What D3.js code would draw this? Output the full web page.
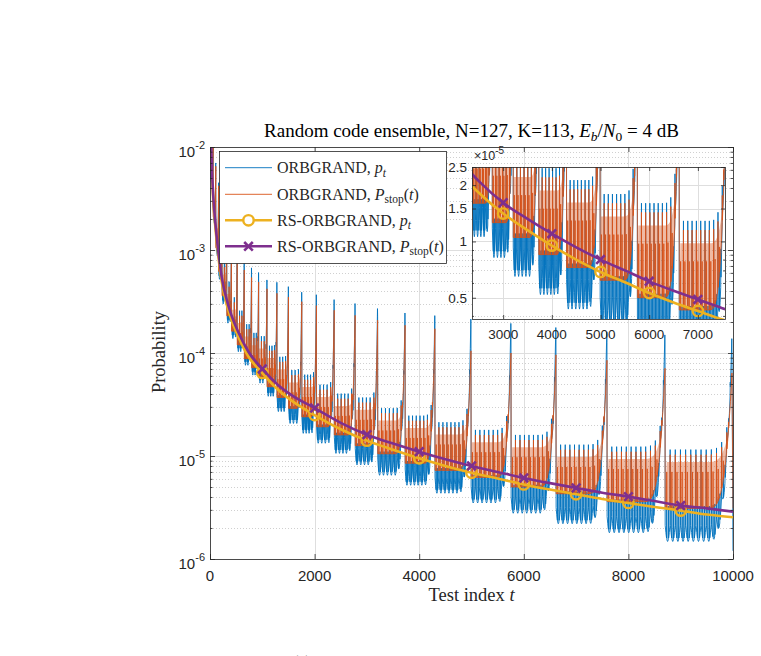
<!DOCTYPE html>
<html><head><meta charset="utf-8">
<script src="https://cdn.jsdelivr.net/npm/d3@7/dist/d3.min.js"></script>
<style>html,body{margin:0;padding:0;background:#fff}svg{display:block}</style>
</head><body>
<svg id="chart" width="761" height="656"></svg>
<script>
// ---------------- DATA ----------------
// RS-ORBGRAND smooth curves
const rsT     = [10, 30, 60, 100, 160, 220, 350, 540, 730, 1000, 1300, 1560, 2000, 2500, 3000, 3500, 4000, 4500, 5000, 5500, 6000, 6500, 7000, 7500, 8000, 8500, 9000, 9500, 10000];
const rsPt    = [2.4e-2, 7.4e-3, 3.2e-3, 1.72e-3, 8.7e-4, 5.05e-4, 2.6e-4, 1.44e-4, 9.3e-5, 6.4e-5, 4.4e-5, 3.45e-5, 2.5e-5, 1.82e-5, 1.41e-5, 1.15e-5, 0.95e-5, 0.80e-5, 0.687e-5, 0.605e-5, 0.53e-5, 0.472e-5, 0.425e-5, 0.383e-5, 0.35e-5, 0.32e-5, 0.295e-5, 0.27e-5, 0.254e-5];
const rsPstop = [2.6e-2, 8e-3, 3.5e-3, 1.9e-3, 9.6e-4, 5.6e-4, 2.9e-4, 1.6e-4, 1.04e-4, 7.0e-5, 4.9e-5, 3.9e-5, 2.92e-5, 2.1e-5, 1.61e-5, 1.32e-5, 1.10e-5, 0.93e-5, 0.80e-5, 0.70e-5, 0.612e-5, 0.545e-5, 0.49e-5, 0.44e-5, 0.403e-5, 0.365e-5, 0.33e-5, 0.31e-5, 0.288e-5];
const markerT = [1000, 2000, 3000, 4000, 5000, 6000, 7000, 8000, 9000];

// ORBGRAND: big spike positions and heights
const spikeT    = [1, 60, 110, 165, 230, 320, 410, 520, 655, 795, 930, 1090, 1280, 1500, 1755, 2035, 2375, 2775, 3205, 3730, 4300, 4990, 5755, 6615, 7590, 8700, 9980];
const peakPt    = [3e-2, 1.2e-2, 7e-3, 4.5e-3, 2.8e-3, 1.9e-3, 1.3e-3, 9e-4, 6.9e-4, 5.8e-4, 5.3e-4, 4.5e-4, 4.1e-4, 3.8e-4, 3.4e-4, 3.1e-4, 2.8e-4, 2.5e-4, 2.25e-4, 2.0e-4, 1.86e-4, 1.7e-4, 1.55e-4, 1.4e-4, 1.26e-4, 1.17e-4, 1.07e-4];
const peakPstop = [2.8e-2, 1.1e-2, 6.5e-3, 4.2e-3, 2.6e-3, 1.77e-3, 1.2e-3, 8.4e-4, 6.4e-4, 5.4e-4, 4.9e-4, 4.2e-4, 3.8e-4, 3.5e-4, 3.15e-4, 2.88e-4, 2.6e-4, 2.32e-4, 2.08e-4, 1.86e-4, 1.72e-4, 1.05e-4, 1.0e-4, 9.6e-5, 8.5e-5, 7.1e-5, 6.4e-5];
// per segment (between consecutive spikes): floors, tooth tops, tooth counts
const floorPt    = [4.5e-3, 1.8e-3, 9e-4, 5.2e-4, 3.0e-4, 1.95e-4, 1.38e-4, 1.03e-4, 7.6e-5, 6.1e-5, 5.1e-5, 3.8e-5, 2.7e-5, 2.07e-5, 1.66e-5, 1.33e-5, 1.06e-5, 8.2e-6, 6.5e-6, 5.2e-6, 4.35e-6, 3.5e-6, 2.78e-6, 2.2e-6, 1.8e-6, 1.48e-6];
const floorPstop = [6e-3, 2.1e-3, 1.05e-3, 6.2e-4, 3.6e-4, 2.3e-4, 1.63e-4, 1.2e-4, 8.8e-5, 7.2e-5, 5.9e-5, 4.7e-5, 3.7e-5, 2.9e-5, 2.4e-5, 1.92e-5, 1.6e-5, 1.26e-5, 1.05e-5, 8.5e-6, 7.25e-6, 6.2e-6, 5.0e-6, 4.3e-6, 3.6e-6, 3.1e-6];
const toothTop   = [1.2e-2, 3.6e-3, 1.9e-3, 1.15e-3, 6.8e-4, 4.4e-4, 3.1e-4, 2.3e-4, 1.7e-4, 1.4e-4, 1.3e-4, 1.05e-4, 8.2e-5, 6.1e-5, 5.5e-5, 4.4e-5, 3.6e-5, 3.3e-5, 2.6e-5, 2.2e-5, 1.9e-5, 1.6e-5, 1.43e-5, 1.15e-5, 1.1e-5, 1.03e-5];
const teethCount = [1, 1, 1, 2, 2, 2, 2, 3, 3, 3, 3, 4, 4, 4, 5, 5, 6, 6, 7, 8, 9, 9, 10, 11, 12, 13];
const endT = 10000, endPt = 1.2e-6, endPstop = 3.1e-6;

// tick labels
const xTicks = [0, 2000, 4000, 6000, 8000, 10000];
const yTickExp = [-6, -5, -4, -3, -2];
const insetXTicks = [3000, 4000, 5000, 6000, 7000];
const insetYTicks = [0.5, 1, 1.5, 2, 2.5];
const legendLabels = ["ORBGRAND, p_t", "ORBGRAND, P_stop(t)", "RS-ORBGRAND, p_t", "RS-ORBGRAND, P_stop(t)"];

// ---------------- SETUP ----------------
const SERIF = '"Liberation Serif","Times New Roman",serif';
const SANS = '"Liberation Sans",Arial,Helvetica,sans-serif';
const AX = '#262626', GRID = '#dedede', MINOR = '#c4c4c4';
const C_BLUE = '#0072BD', C_OR = '#D95319', C_YEL = '#EDB120', C_PUR = '#7E2F8E';
const svg = d3.select('#chart');
const M = {l: 210, r: 733, t: 147, b: 559};
const x = d3.scaleLinear().domain([0, 10000]).range([M.l, M.r]);
const y = d3.scaleLog().domain([1e-6, 1e-2]).range([M.b, M.t]);
const I = {l: 472, r: 725, t: 167, b: 319};
const xi = d3.scaleLinear().domain([2360, 7557]).range([I.l, I.r]);
const yi = d3.scaleLog().domain([0.385e-5, 2.5e-5]).range([I.b, I.t]);

// ---------------- BUILD ORBGRAND SERIES ----------------
function envG(u) { const u0 = 0.6; return u <= u0 ? 0 : Math.pow((u - u0) / (1 - u0), 4); }
function ll(a, b, g) { return a * Math.pow(b / a, g); }
function segFns(k) {
  const a = spikeT[k], b = spikeT[k + 1], L = b - a;
  const u = t => (t - a) / L;
  const fB = t => ll(floorPt[k], peakPt[k + 1], envG(u(t)));
  const fO = t => ll(floorPstop[k], peakPstop[k + 1], envG(u(t)));
  const hT = t => Math.max(ll(toothTop[k], peakPt[k + 1], 0.5 * envG(u(t))), fO(t) * 1.3);
  return {a, b, L, fB, fO, hT};
}
function buildSeries(isPt) {
  const pts = [], peaks = isPt ? peakPt : peakPstop;
  for (let k = 0; k < spikeT.length; k++) {
    pts.push([spikeT[k], peaks[k]]);
    if (k === spikeT.length - 1) break;
    const {a, L, fB, fO, hT} = segFns(k);
    const n = teethCount[k], sub = 3, dp = L / n, ds = dp / sub, eps = ds * 0.1;
    for (let j = 0; j < n; j++) {
      const g0 = a + j * dp;
      const bowl = t => { const w = (t - g0) / dp; return fB(t) * (1 + 0.5 * Math.pow(2 * w - 1, 2)); };
      for (let i = 0; i < sub; i++) {
        const s = g0 + i * ds, e = s + ds;
        if (isPt) {
          pts.push([s + eps, bowl(s + eps)]);
          pts.push([(s + e) / 2, bowl((s + e) / 2)]);
          pts.push([e - eps, bowl(e - eps)]);
        } else {
          pts.push([s + eps, fO(s + eps)]);
          pts.push([e - eps, fO(e - eps)]);
        }
        if (j === n - 1 && i === sub - 1) continue;
        const prim = (i === sub - 1);
        let v;
        if (isPt) v = prim ? hT(e) * 1.12 : Math.max(fO(e) * 1.05, bowl(e) * 1.25);
        else {
          if (prim) v = hT(e);
          else if (i === 0) v = Math.max(hT(e) * 0.68, fO(e) * 1.2);
          else continue;
        }
        pts.push([e, v]);
      }
    }
  }
  pts.push([endT, isPt ? endPt : endPstop]);
  return pts;
}
function buildBand() {
  const band = [];
  for (let k = 0; k < spikeT.length - 1; k++) {
    const {a, L, fO, hT} = segFns(k);
    const N = 40;
    for (let i = 0; i <= N; i++) {
      const t = a + L * i / N, lo = fO(t);
      const hi = (i === 0 || i === N) ? lo : Math.max(lo, hT(t) * 0.85);
      band.push([t, lo, hi]);
    }
  }
  return band;
}
const seriesPt = buildSeries(true);
const seriesStop = buildSeries(false);
const bandStop = buildBand();
const rsPtData = rsT.map((t, i) => [t, rsPt[i]]);
const rsStopData = rsT.map((t, i) => [t, rsPstop[i]]);

// ---------------- DRAW HELPERS ----------------
function xMark(g, cx, cy, s, color, w) {
  g.append('path').attr('d', `M${cx - s},${cy - s}L${cx + s},${cy + s}M${cx - s},${cy + s}L${cx + s},${cy - s}`)
    .attr('stroke', color).attr('stroke-width', w).attr('fill', 'none');
}
function drawSeries(g, xs, ys) {
  g.append('path').datum(seriesPt)
    .attr('d', d3.line().x(d => xs(d[0])).y(d => ys(d[1])))
    .attr('fill', 'none').attr('stroke', C_BLUE).attr('stroke-width', 0.9);
  g.append('path').datum(bandStop)
    .attr('d', d3.area().x(d => xs(d[0])).y0(d => ys(d[1])).y1(d => ys(d[2])))
    .attr('fill', C_OR).attr('fill-opacity', 0.4).attr('stroke', 'none');
  g.append('path').datum(seriesStop)
    .attr('d', d3.line().x(d => xs(d[0])).y(d => ys(d[1])))
    .attr('fill', 'none').attr('stroke', C_OR).attr('stroke-width', 0.85);
  const rsLine = d3.line().curve(d3.curveMonotoneX).x(d => xs(d[0])).y(d => ys(d[1]));
  g.append('path').datum(rsPtData).attr('d', rsLine).attr('fill', 'none').attr('stroke', C_YEL).attr('stroke-width', 2.6);
  rsPtData.filter(d => markerT.includes(d[0])).forEach(d => {
    g.append('circle').attr('cx', xs(d[0])).attr('cy', ys(d[1])).attr('r', 5.2)
      .attr('fill', 'none').attr('stroke', C_YEL).attr('stroke-width', 2.4);
  });
  g.append('path').datum(rsStopData).attr('d', rsLine).attr('fill', 'none').attr('stroke', C_PUR).attr('stroke-width', 2.6);
  rsStopData.filter(d => markerT.includes(d[0])).forEach(d => xMark(g, xs(d[0]), ys(d[1]), 4.3, C_PUR, 2.6));
}
function styleAxis(sel) {
  sel.select('.domain').remove();
  sel.selectAll('.tick line').attr('stroke', AX).attr('stroke-width', 0.8);
  sel.selectAll('.tick text').remove();
}
function drawAxes(xs, ys, box, xt, yt, ym, tk) {
  svg.append('g').attr('transform', `translate(0,${box.b})`).call(d3.axisBottom(xs).tickValues(xt).tickSize(-tk)).call(styleAxis);
  svg.append('g').attr('transform', `translate(0,${box.t})`).call(d3.axisTop(xs).tickValues(xt).tickSize(-tk)).call(styleAxis);
  svg.append('g').attr('transform', `translate(${box.l},0)`).call(d3.axisLeft(ys).tickValues(yt).tickSize(-tk)).call(styleAxis);
  svg.append('g').attr('transform', `translate(${box.r},0)`).call(d3.axisRight(ys).tickValues(yt).tickSize(-tk)).call(styleAxis);
  svg.append('g').attr('transform', `translate(${box.l},0)`).call(d3.axisLeft(ys).tickValues(ym).tickSize(-tk / 2)).call(styleAxis);
  svg.append('g').attr('transform', `translate(${box.r},0)`).call(d3.axisRight(ys).tickValues(ym).tickSize(-tk / 2)).call(styleAxis);
  svg.append('rect').attr('x', box.l + 0.5).attr('y', box.t + 0.5).attr('width', box.r - box.l).attr('height', box.b - box.t)
    .attr('fill', 'none').attr('stroke', AX).attr('stroke-width', 0.8);
}
function drawGrid(g, xs, ys, box, xt, yt, ym) {
  ym.forEach(v => g.append('line').attr('x1', box.l).attr('x2', box.r).attr('y1', Math.round(ys(v)) + 0.5).attr('y2', Math.round(ys(v)) + 0.5)
    .attr('stroke', MINOR).attr('stroke-width', 0.8).attr('stroke-dasharray', '1,2'));
  yt.forEach(v => g.append('line').attr('x1', box.l).attr('x2', box.r).attr('y1', Math.round(ys(v)) + 0.5).attr('y2', Math.round(ys(v)) + 0.5)
    .attr('stroke', GRID).attr('stroke-width', 1));
  xt.forEach(v => g.append('line').attr('x1', Math.round(xs(v)) + 0.5).attr('x2', Math.round(xs(v)) + 0.5).attr('y1', box.t).attr('y2', box.b)
    .attr('stroke', GRID).attr('stroke-width', 1));
}

// ---------------- MAIN AXES ----------------
const defs = svg.append('defs');
defs.append('clipPath').attr('id', 'clipMain').append('rect').attr('x', M.l).attr('y', M.t).attr('width', M.r - M.l).attr('height', M.b - M.t);
defs.append('clipPath').attr('id', 'clipInset').append('rect').attr('x', I.l).attr('y', I.t).attr('width', I.r - I.l).attr('height', I.b - I.t);

const mainMinor = [];
for (let e = -6; e < -2; e++) for (let m = 2; m <= 9; m++) mainMinor.push(m * Math.pow(10, e));
const mainMajor = yTickExp.map(e => Math.pow(10, e));

const gMain = svg.append('g');
drawGrid(gMain, x, y, M, xTicks, mainMajor, mainMinor);
drawSeries(gMain.append('g').attr('clip-path', 'url(#clipMain)'), x, y);
drawAxes(x, y, M, xTicks, mainMajor, mainMinor, 5);

// tick labels main
xTicks.forEach(v => svg.append('text').attr('x', x(v)).attr('y', 580.5).attr('text-anchor', 'middle')
  .attr('font-family', SANS).attr('font-size', 15).attr('fill', AX).text(v));
yTickExp.forEach(e => {
  const t = svg.append('text').attr('x', 205).attr('y', y(Math.pow(10, e)) + 9.5).attr('text-anchor', 'end')
    .attr('font-family', SANS).attr('fill', AX);
  t.append('tspan').attr('font-size', 15).text('10');
  t.append('tspan').attr('font-size', 11).attr('dy', -8).text('-' + Math.abs(e));
});

// title
const title = svg.append('text').attr('x', (M.l + M.r) / 2).attr('y', 137).attr('text-anchor', 'middle')
  .attr('font-family', SERIF).attr('font-size', 19).attr('fill', '#000');
title.append('tspan').text('Random code ensemble, N=127, K=113, ');
title.append('tspan').attr('font-style', 'italic').text('E');
title.append('tspan').attr('font-style', 'italic').attr('font-size', 13.5).attr('dy', 4).text('b');
title.append('tspan').attr('dy', -4).text('/');
title.append('tspan').attr('font-style', 'italic').text('N');
title.append('tspan').attr('font-size', 13.5).attr('dy', 4).text('0');
title.append('tspan').attr('dy', -4).text(' = 4 dB');

// axis labels
const xl = svg.append('text').attr('x', (M.l + M.r) / 2).attr('y', 601).attr('text-anchor', 'middle')
  .attr('font-family', SERIF).attr('font-size', 18.5).attr('fill', AX);
xl.append('tspan').text('Test index ');
xl.append('tspan').attr('font-style', 'italic').text('t');
svg.append('text').attr('transform', 'translate(165,352) rotate(-90)').attr('text-anchor', 'middle')
  .attr('font-family', SERIF).attr('font-size', 18.5).attr('fill', AX).text('Probability');

// ---------------- LEGEND ----------------
const L0 = {x: 219.5, y: 151.5, w: 227, h: 112};
const gLeg = svg.append('g');
gLeg.append('rect').attr('x', L0.x).attr('y', L0.y).attr('width', L0.w).attr('height', L0.h)
  .attr('fill', '#fff').attr('stroke', AX).attr('stroke-width', 0.8);
const legY = [167.7, 194.3, 220.3, 246.3];
const legStyle = [
  {c: C_BLUE, w: 0.9, m: null},
  {c: C_OR, w: 0.9, m: null},
  {c: C_YEL, w: 2.6, m: 'o'},
  {c: C_PUR, w: 2.6, m: 'x'}
];
legendLabels.forEach((lab, i) => {
  const st = legStyle[i], yy = legY[i];
  gLeg.append('line').attr('x1', 225).attr('x2', 272).attr('y1', yy).attr('y2', yy).attr('stroke', st.c).attr('stroke-width', st.w);
  if (st.m === 'o') gLeg.append('circle').attr('cx', 248.5).attr('cy', yy).attr('r', 5.2).attr('fill', '#fff').attr('stroke', st.c).attr('stroke-width', 2.4);
  if (st.m === 'x') xMark(gLeg, 248.5, yy, 4.3, st.c, 2.6);
  const t = gLeg.append('text').attr('x', 277).attr('y', yy + 5.5).attr('font-family', SERIF).attr('font-size', 16).attr('fill', AX);
  const [name, sym] = lab.split(', ');
  t.append('tspan').text(name + ', ');
  if (sym === 'p_t') {
    t.append('tspan').attr('font-style', 'italic').text('p');
    t.append('tspan').attr('font-style', 'italic').attr('font-size', 11.5).attr('dy', 3.5).text('t');
  } else {
    t.append('tspan').attr('font-style', 'italic').text('P');
    t.append('tspan').attr('font-size', 11.5).attr('dy', 3.5).text('stop');
    t.append('tspan').attr('dy', -3.5).text('(');
    t.append('tspan').attr('font-style', 'italic').text('t');
    t.append('tspan').text(')');
  }
});

// ---------------- INSET ----------------
const insMajor = insetYTicks.map(v => v * 1e-5);
const insMinor = [4e-6, 6e-6, 7e-6, 8e-6, 9e-6];
svg.append('rect').attr('x', I.l).attr('y', I.t).attr('width', I.r - I.l).attr('height', I.b - I.t).attr('fill', '#fff');
const gIns = svg.append('g');
drawGrid(gIns, xi, yi, I, insetXTicks, insMajor, insMinor);
drawSeries(gIns.append('g').attr('clip-path', 'url(#clipInset)'), xi, yi);
drawAxes(xi, yi, I, insetXTicks, insMajor, insMinor, 4);
insetXTicks.forEach(v => svg.append('text').attr('x', xi(v)).attr('y', 339).attr('text-anchor', 'middle')
  .attr('font-family', SANS).attr('font-size', 13.5).attr('fill', AX).text(v));
insetYTicks.forEach(v => svg.append('text').attr('x', 467).attr('y', yi(v * 1e-5) + 4.8).attr('text-anchor', 'end')
  .attr('font-family', SANS).attr('font-size', 13.5).attr('fill', AX).text(v));
const ex = svg.append('text').attr('x', 474).attr('y', 160).attr('font-family', SANS).attr('fill', AX);
ex.append('tspan').attr('font-size', 12.5).text('\u00d710');
ex.append('tspan').attr('font-size', 10).attr('dy', -6).text('-5');

// caption fragment at the bottom edge (cut off in the reference too)
svg.append('text').attr('x', 302).attr('y', 667).attr('text-anchor', 'middle').attr('font-family', SERIF)
  .attr('font-size', 16).attr('fill', '#444').text('(a)');
</script>
</body></html>
